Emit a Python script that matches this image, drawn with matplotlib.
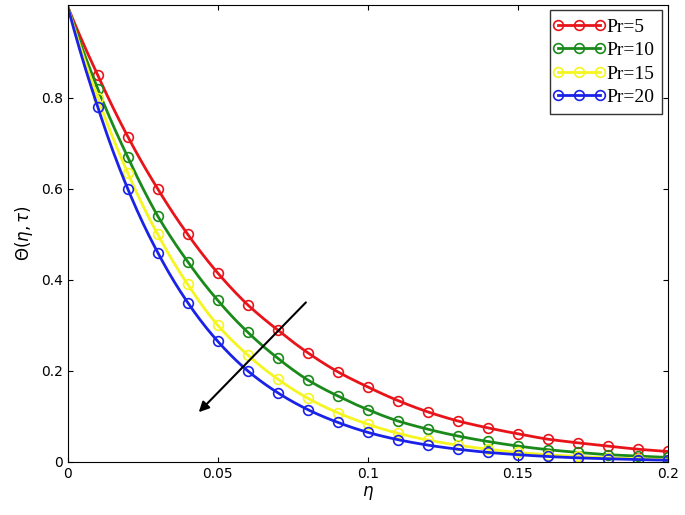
import matplotlib.pyplot as plt
import numpy as np

eta = [0.0, 0.01, 0.02, 0.03, 0.04, 0.05, 0.06, 0.07, 0.08, 0.09, 0.1,
       0.11, 0.12, 0.13, 0.14, 0.15, 0.16, 0.17, 0.18, 0.19, 0.2]
pr5 = [1.0, 0.85, 0.715, 0.60, 0.50, 0.415, 0.345, 0.29, 0.24, 0.198, 0.165,
       0.135, 0.11, 0.09, 0.075, 0.062, 0.05, 0.042, 0.035, 0.028, 0.023]
pr10 = [1.0, 0.82, 0.67, 0.54, 0.44, 0.355, 0.285, 0.228, 0.18, 0.145, 0.115,
        0.09, 0.072, 0.057, 0.045, 0.035, 0.027, 0.021, 0.016, 0.013, 0.010]
pr15 = [1.0, 0.80, 0.635, 0.50, 0.39, 0.30, 0.235, 0.182, 0.14, 0.108, 0.083,
        0.063, 0.048, 0.037, 0.028, 0.021, 0.016, 0.012, 0.009, 0.007, 0.005]
pr20 = [1.0, 0.78, 0.60, 0.46, 0.35, 0.265, 0.20, 0.152, 0.115, 0.087, 0.065,
        0.049, 0.037, 0.028, 0.021, 0.016, 0.012, 0.009, 0.007, 0.005, 0.004]
labels = ['Pr=5', 'Pr=10', 'Pr=15', 'Pr=20']
colors = ['#e8141a', '#1a8a1a', '#f5f520', '#1a22e8']

fig = plt.figure(figsize=(6.85, 5.15), dpi=100)
ax = fig.add_axes([0.099, 0.103, 0.876, 0.888])

# smooth line: interpolate in log space between read points
fine = np.linspace(0, 0.2, 400)
for ys, lab, c in zip([pr5, pr10, pr15, pr20], labels, colors):
    smooth = np.exp(np.interp(fine, eta, np.log(ys)))
    ax.plot(fine, smooth, color=c, lw=2)
    ax.plot(eta[1:], ys[1:], ls='none', marker='o', mfc='none', mec=c, ms=7, mew=1.2)
    ax.plot([], [], color=c, lw=2, marker='o', mfc='none', ms=7, mew=1.2, label=lab)

ax.annotate('', xy=(0.043, 0.105), xytext=(0.08, 0.355),
            arrowprops=dict(arrowstyle='-|>', color='black', lw=1.5, mutation_scale=15))

ax.set_xlim(0, 0.2)
ax.set_ylim(0, 1.005)
ax.set_xticks([0, 0.05, 0.1, 0.15, 0.2])
ax.set_xticklabels(['0', '0.05', '0.1', '0.15', '0.2'])
ax.set_yticks([0, 0.2, 0.4, 0.6, 0.8])
ax.set_yticklabels(['0', '0.2', '0.4', '0.6', '0.8'])
ax.tick_params(labelsize=10, direction='in', top=True, right=True)
ax.set_xlabel(r'$\eta$', fontsize=12, labelpad=2)
ax.set_ylabel(r'$\Theta(\eta,\tau)$', fontsize=12)

leg = ax.legend(loc='upper right', prop={'family': 'Liberation Serif', 'size': 14},
                fancybox=False, edgecolor='black', handlelength=2.2,
                borderaxespad=0.3, labelspacing=0.3, handletextpad=0.3)
for h in leg.get_lines():
    h.set_markevery([0, 1, 2])

fig.savefig('out.png')
